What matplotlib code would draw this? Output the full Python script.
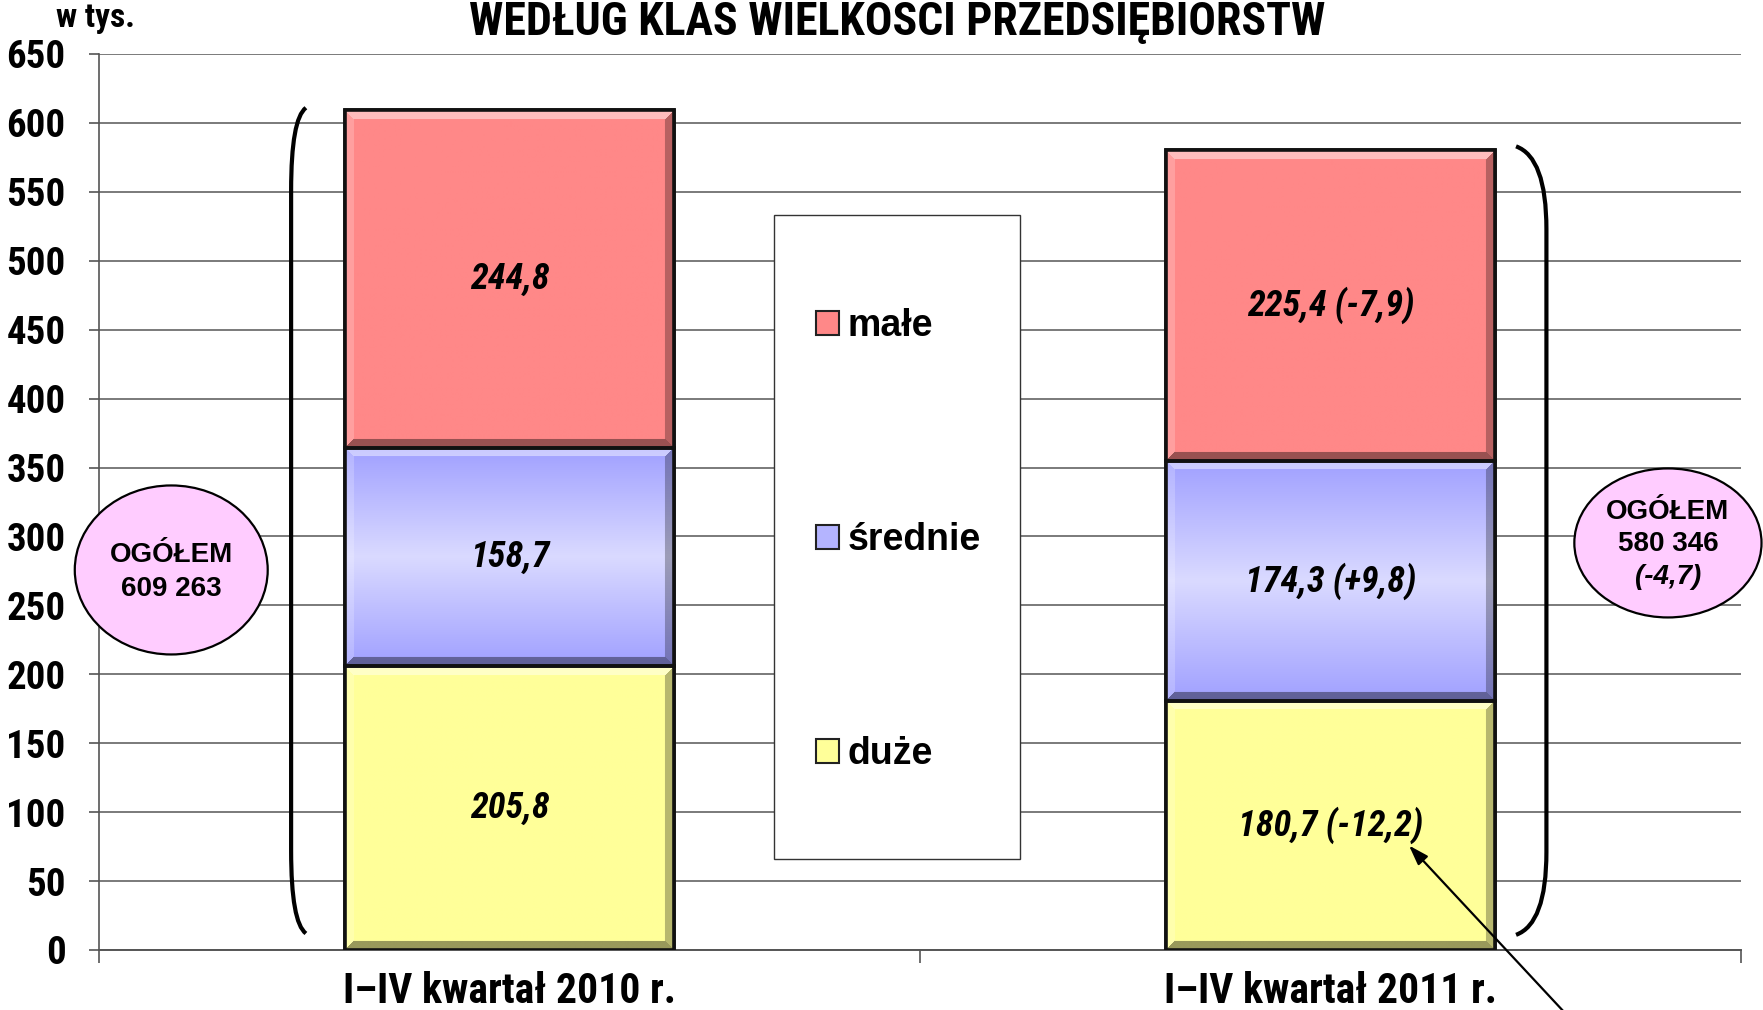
import numpy as np
import matplotlib
matplotlib.use("Agg")
import matplotlib.pyplot as plt
from matplotlib.patches import Ellipse, Rectangle, Patch
from matplotlib.path import Path
from matplotlib.patches import PathPatch
import matplotlib.colors as mcolors

# ---------------- data ----------------
categories = ["I\u2013IV kwarta\u0142 2010 r.", "I\u2013IV kwarta\u0142 2011 r."]
series_names = ["du\u017ce", "\u015brednie", "ma\u0142e"]
duze = [205.8, 180.7]
srednie = [158.7, 174.3]
male = [244.8, 225.4]
change_2011 = {"du\u017ce": "-12,2", "\u015brednie": "+9,8", "ma\u0142e": "-7,9"}
totals_label = "OG\u00d3\u0141EM"
totals_value = ["609 263", "580 346"]
total_change_2011 = "(-4,7)"
yticks = list(range(0, 651, 50))
title = "WED\u0141UG KLAS WIELKOSCI PRZEDSI\u0118BIORSTW"
unit = "w tys."

colors = {"du\u017ce": "#FFFF99", "\u015brednie": "#B4B4FF", "ma\u0142e": "#FF8888"}

NARROW = ["Roboto Condensed", "Liberation Sans", "DejaVu Sans"]
REG = ["Liberation Sans", "DejaVu Sans"]

W, H, DPI = 1763, 1010, 100
fig = plt.figure(figsize=(W / DPI, H / DPI), dpi=DPI)
ax = fig.add_axes([99 / W, 1 - 950 / H, (1741 - 99) / W, (950 - 54) / H])
ax.set_xlim(-0.5, 1.5)
ax.set_ylim(0, 650)

# gridlines
ax.set_yticks(yticks)
ax.yaxis.grid(True, color="#7a7a7a", lw=1.4, zorder=0)
ax.set_axisbelow(True)
for s in ["top", "right"]:
    ax.spines[s].set_visible(False)
ax.spines["left"].set_color("#555555")
ax.spines["left"].set_linewidth(1.2)
ax.spines["bottom"].set_color("#555555")
ax.spines["bottom"].set_linewidth(1.4)
ax.tick_params(axis="y", length=7, width=1.2, color="#555555", pad=17)
for lab in ax.get_yticklabels():
    lab.set_fontfamily(NARROW)
    lab.set_fontweight("bold")
    lab.set_fontsize(28)

x = np.arange(len(categories))
ax.set_xticks(x)
ax.set_xticklabels(categories, fontfamily=NARROW, fontweight="bold", fontsize=30)
ax.tick_params(axis="x", length=0, pad=15)
ax.set_xticks([-0.5, 0.5, 1.5], minor=True)
ax.tick_params(axis="x", which="minor", length=9, width=1.2, color="#555555")

bar_w = 0.4
px_per_x = (1741 - 99) / 2.0
px_per_y = (950 - 54) / 650.0


def bevel_image(color, height_val, gradient_mid=False):
    hp = max(int(height_val * px_per_y), 4)
    wp = int(bar_w * px_per_x)
    base = np.array(mcolors.to_rgb(color))
    img = np.ones((hp, wp, 3)) * base
    if gradient_mid:
        yy = np.linspace(0, 1, hp)
        t = 1 - np.abs(yy - 0.5) * 2
        light = np.array(mcolors.to_rgb("#DADAFF"))
        dark = np.array(mcolors.to_rgb("#A0A0FF"))
        prof = dark[None, :] * (1 - t[:, None]) + light[None, :] * t[:, None]
        img = np.repeat(prof[:, None, :], wp, axis=1)
    b = 9
    ys = np.arange(hp)[:, None]
    xs = np.arange(wp)[None, :]
    top = (ys < b) & (ys <= xs) & (ys <= wp - 1 - xs)
    bot = (ys >= hp - b) & (hp - 1 - ys <= xs) & (hp - 1 - ys <= wp - 1 - xs)
    lef = (xs < b) & ~top & ~bot
    rig = (xs >= wp - b) & ~top & ~bot
    img[top] = img[top] * 0.55 + 0.45
    img[bot] = img[bot] * 0.6
    img[lef] = img[lef] * 0.8 + 0.2
    img[rig] = img[rig] * 0.72
    return img


series_vals = {"du\u017ce": duze, "\u015brednie": srednie, "ma\u0142e": male}
bottoms = np.zeros(len(categories))
for name in series_names:
    vals = np.array(series_vals[name])
    bc = ax.bar(x, vals, bar_w, bottom=bottoms, color=colors[name],
                edgecolor="#111111", linewidth=2.6, zorder=3)
    for i, rect in enumerate(bc):
        img = bevel_image(colors[name], vals[i], gradient_mid=(name == "\u015brednie"))
        im = ax.imshow(img, extent=[x[i] - bar_w / 2, x[i] + bar_w / 2,
                                    bottoms[i], bottoms[i] + vals[i]],
                       aspect="auto", zorder=3.5, interpolation="bilinear")
        im.set_clip_path(rect)
        ax.bar(x[i], vals[i], bar_w, bottom=bottoms[i], fill=False,
               edgecolor="#111111", linewidth=2.6, zorder=4)
        txt = f"{vals[i]:.1f}".replace(".", ",")
        if i == 1:
            txt += f" ({change_2011[name]})"
        ax.text(x[i], bottoms[i] + vals[i] / 2, txt, ha="center", va="center",
                fontfamily=NARROW, fontweight="bold", fontstyle="italic",
                fontsize=26, zorder=5)
    bottoms = bottoms + vals

# legend box
ax.add_patch(Rectangle((0.411, 0.1016), 0.150, 0.7187, transform=ax.transAxes,
                       facecolor="white", edgecolor="#333333", lw=1.0, zorder=2))
handles = [Patch(facecolor=colors[n], edgecolor="#222222", lw=1.5) for n in series_names[::-1]]
leg = fig.legend(handles, series_names[::-1], loc="center left",
                 bbox_to_anchor=(816 / W, 1 - 540 / H), frameon=False,
                 prop={"family": REG, "weight": "bold", "size": 27},
                 handlelength=0.6, handleheight=0.6, handletextpad=0.25,
                 labelspacing=4.75, borderpad=0, borderaxespad=0)


def bracket(x_end, x_mid, y_top, y_bot, curve):
    p = Path([(x_end, y_top), (x_mid, y_top - curve * 0.2), (x_mid, y_top - curve * 1.5),
              (x_mid, y_bot + curve * 1.5), (x_mid, y_bot + curve * 0.2), (x_end, y_bot)],
             [Path.MOVETO, Path.CURVE3, Path.CURVE3, Path.LINETO, Path.CURVE3, Path.CURVE3])
    ax.add_patch(PathPatch(p, fill=False, lw=3, edgecolor="black", zorder=5, clip_on=False))


bracket(-0.248, -0.266, 611, 12, 40)
bracket(1.226, 1.263, 583, 11, 40)

# ellipses
ax.add_patch(Ellipse((-0.412, 275.7), 0.235, 122.6, facecolor="#FFCCFF", edgecolor="black",
                     lw=1.6, zorder=6, clip_on=False))
ax.text(-0.412, 286.3, totals_label, ha="center", va="center", fontfamily=REG,
        fontweight="bold", fontsize=20, zorder=7)
ax.text(-0.412, 261.8, totals_value[0], ha="center", va="center", fontfamily=REG,
        fontweight="bold", fontsize=20, zorder=7)
ax.add_patch(Ellipse((1.411, 295.3), 0.228, 108.1, facecolor="#FFCCFF", edgecolor="black",
                     lw=1.6, zorder=6, clip_on=False))
ax.text(1.411, 318, totals_label, ha="center", va="center", fontfamily=REG,
        fontweight="bold", fontsize=20, zorder=7, clip_on=False)
ax.text(1.411, 294.5, totals_value[1], ha="center", va="center", fontfamily=REG,
        fontweight="bold", fontsize=20, zorder=7, clip_on=False)
ax.text(1.411, 270.8, total_change_2011, ha="center", va="center", fontfamily=REG,
        fontweight="bold", fontstyle="italic", fontsize=20, zorder=7, clip_on=False)

# arrow
ax.annotate("", xy=(1.0956, 75.8), xytext=(1.283, -44),
            arrowprops=dict(arrowstyle="-|>,head_length=1.2,head_width=0.4",
                            color="black", lw=1.6, shrinkA=0, shrinkB=0),
            annotation_clip=False, zorder=8)

# title and unit
fig.text(0.509, 1 - 35 / H, title, ha="center", va="baseline", fontfamily=NARROW,
         fontweight="bold", fontsize=33)
fig.text(56 / W, 1 - 27 / H, unit, ha="left", va="baseline", fontfamily=NARROW,
         fontweight="bold", fontsize=24)

fig.savefig("out.png", dpi=DPI)
